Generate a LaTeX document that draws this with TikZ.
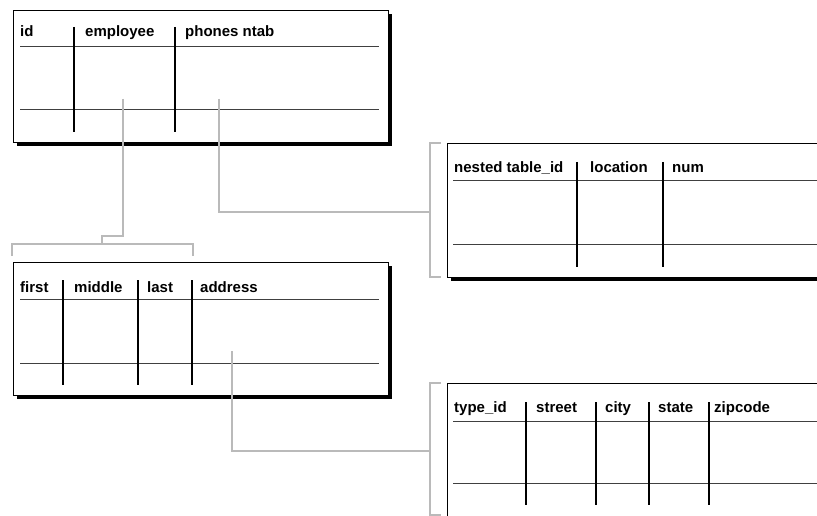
\documentclass[tikz,border=0pt]{standalone}
\usepackage{fontspec}
\setmainfont{Liberation Sans}
\usetikzlibrary{shadows}
\begin{document}
\begin{tikzpicture}[x=1pt,y=-1pt,
  tbox/.style={draw=black, line width=1.2pt, fill=white, inner sep=0pt, anchor=north west,
    drop shadow={fill=black, opacity=1, shadow xshift=3.5pt, shadow yshift=-3.5pt}},
  hline/.style={draw=black!75, line width=1pt},
  vline/.style={draw=black, line width=1.5pt},
  conn/.style={draw=black!27, line width=1.3pt},
  hdr/.style={anchor=base west, inner sep=0pt, font=\bfseries\fontsize{15}{17}\selectfont}]
\useasboundingbox (0,0) rectangle (817,516);
\clip (0,0) rectangle (817,516);

% ---------- top table ----------
\node[tbox, minimum width=375pt, minimum height=132pt] (T1) at (13,10) {};
\draw[hline] (20,47) -- (379,47);
\draw[hline] (20,110) -- (379,110);
\draw[vline] (74,27) -- (74,132);
\draw[vline] (175,27) -- (175,132);
\node[hdr] (t1a) at (20,37) {id};
\node[hdr] (t1b) at (85,37) {employee};
\node[hdr] (t1c) at (185,37) {phones ntab};

% ---------- middle left table ----------
\node[tbox, minimum width=375pt, minimum height=133pt] (T2) at (13,262) {};
\draw[hline] (20,299) -- (379,299);
\draw[hline] (20,363) -- (379,363);
\draw[vline] (63,280) -- (63,385);
\draw[vline] (138,280) -- (138,385);
\draw[vline] (192,280) -- (192,385);
\node[hdr] (t2a) at (20,292) {first};
\node[hdr] (t2b) at (74,292) {middle};
\node[hdr] (t2c) at (147,292) {last};
\node[hdr] (t2d) at (200,292) {address};

% ---------- upper right table ----------
\node[tbox, minimum width=400pt, minimum height=134pt] (T3) at (447,143) {};
\draw[hline] (453,181) -- (830,181);
\draw[hline] (453,244) -- (830,244);
\draw[vline] (577,162) -- (577,267);
\draw[vline] (663,162) -- (663,267);
\node[hdr] (t3a) at (454,173) {nested table\_id};
\node[hdr] (t3b) at (590,173) {location};
\node[hdr] (t3c) at (672,173) {num};

% ---------- lower right table ----------
\node[tbox, minimum width=400pt, minimum height=160pt] (T4) at (447,383) {};
\draw[hline] (453,421) -- (830,421);
\draw[hline] (453,483) -- (830,483);
\draw[vline] (526,402) -- (526,505);
\draw[vline] (596,402) -- (596,505);
\draw[vline] (649,402) -- (649,505);
\draw[vline] (709,402) -- (709,505);
\node[hdr] (t4a) at (454,412) {type\_id};
\node[hdr] (t4b) at (536,412) {street};
\node[hdr] (t4c) at (605,412) {city};
\node[hdr] (t4d) at (658,412) {state};
\node[hdr] (t4e) at (714,412) {zipcode};

% ---------- connectors ----------
\coordinate (empsrc) at (123,99);
\coordinate (phsrc) at (219,99);
\coordinate (adsrc) at (232,351);
\coordinate (b2mid) at (102,244);
\coordinate (b3mid) at (430,212);
\coordinate (b4mid) at (430,451);

\draw[conn] (empsrc) |- (102,236) -- (b2mid);
\draw[conn] (12,256) -- (12,244) -- (193,244) -- (193,256);
\draw[conn] (phsrc) |- (b3mid);
\draw[conn] (441,143) -- (430,143) -- (430,277) -- (441,277);
\draw[conn] (adsrc) |- (b4mid);
\draw[conn] (441,383) -- (430,383) -- (430,515) -- (441,515);
\end{tikzpicture}
\end{document}
